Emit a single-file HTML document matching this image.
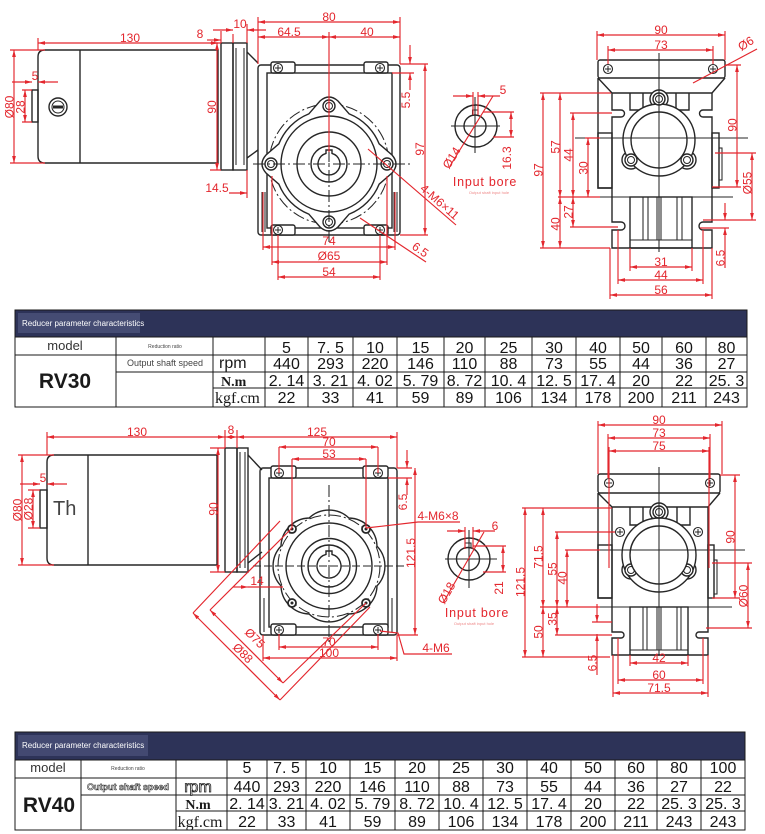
<!DOCTYPE html>
<html><head><meta charset="utf-8">
<style>
html,body{margin:0;padding:0;background:#fff}
svg{display:block}
.r{stroke:#e3262d;stroke-width:1.15;fill:none}
.a{marker-start:url(#m);marker-end:url(#m)}
.ae{marker-end:url(#m)}
.as{marker-start:url(#m)}
.d{stroke:#262626;stroke-width:1.4;fill:none}
.dt{stroke:#262626;stroke-width:1.05;fill:none}
.dw{stroke:#262626;stroke-width:1.4;fill:#fff}
.cl{stroke:#262626;stroke-width:1.05;stroke-dasharray:12 3 2 3;fill:none}
.t{fill:#e3262d;font-family:"Liberation Sans",sans-serif;font-size:12px;text-anchor:middle}
.v{fill:#151515;font-family:"Liberation Sans Narrow","Liberation Sans",sans-serif;font-size:16px;text-anchor:middle}
.g{stroke:#1a1a1a;stroke-width:1;fill:none}
</style></head><body>
<svg width="765" height="834" viewBox="0 0 765 834" xmlns="http://www.w3.org/2000/svg">
<defs>
<marker id="m" viewBox="0 0 10 10" refX="10" refY="5" markerWidth="7" markerHeight="7" orient="auto-start-reverse" markerUnits="userSpaceOnUse"><path d="M0,2.3L10,5L0,7.7z" fill="#e3262d"/></marker>
<g id="sc"><circle r="4.5" fill="#fff" stroke="#262626" stroke-width="1.1"/><path d="M-3,0H3M0,-3V3" stroke="#262626" stroke-width="1"/></g>
<g id="ho"><circle r="6" fill="#fff" stroke="#262626" stroke-width="1.4"/><circle r="3.5" fill="none" stroke="#262626" stroke-width="1"/></g>
<g id="sm"><circle r="4" fill="#fff" stroke="#262626" stroke-width="1.8"/><circle r="1.5" fill="#262626"/></g>
</defs>
<rect width="765" height="834" fill="#fff"/>

<!-- ================= TOP LEFT (RV30 side) ================= -->
<path class="d" d="M45,50H218V163H45Q38,163 38,156V57Q38,50 45,50Z"/>
<line class="d" x1="80" y1="50" x2="80" y2="163"/>
<rect class="d" x="32" y="90" width="6" height="32"/>
<circle cx="58" cy="107" r="9" class="d"/><circle cx="58" cy="107" r="6" class="dt"/><rect x="53" y="105.5" width="10" height="3" fill="#262626"/>
<rect class="d" x="221" y="43" width="12" height="127"/>
<rect class="d" x="233" y="43" width="14" height="127"/>
<path class="dt" d="M236,48V165M244,48V165"/>
<path class="d" d="M247,52L258,63M247,158L258,150"/>
<rect class="d" x="258" y="65" width="142" height="170" rx="3"/>
<rect class="d" x="267" y="73" width="125" height="155"/>
<rect class="dw" x="271" y="62" width="24" height="11" rx="2"/>
<rect class="dw" x="364" y="62" width="24" height="11" rx="2"/>
<rect class="dw" x="271" y="225" width="24" height="10" rx="2"/>
<rect class="dw" x="364" y="225" width="24" height="10" rx="2"/>
<path class="dt" d="M262,192V232M265,192V232M394,192V232M397,192V232"/>
<use href="#sc" x="278" y="68"/><use href="#sc" x="380" y="68"/>
<use href="#sc" x="278" y="230"/><use href="#sc" x="380" y="230"/>
<circle cx="329" cy="164" r="60" class="dt" stroke-dasharray="12 3 2 3"/>
<path class="dw" d="M308.8,113.9 L320,101 Q329,93 338,101 L349.2,113.9 A54,54 0 0 1 379.1,143.8 L392,155 Q400,164 392,173 L379.1,184.2 A54,54 0 0 1 349.2,214.1 L338,227 Q329,235 320,227 L308.8,214.1 A54,54 0 0 1 278.9,184.2 L266,173 Q258,164 266,155 L278.9,143.8 A54,54 0 0 1 308.8,113.9 Z"/>
<circle cx="329" cy="164" r="48" class="d"/>
<circle cx="329" cy="164" r="32" class="d"/>
<circle cx="329" cy="164" r="18" class="d"/>
<path class="d" d="M326,153.4 A11,11 0 1 0 332,153.4 V150 H326 Z"/>
<use href="#ho" x="329" y="106"/><use href="#ho" x="387" y="164"/>
<use href="#ho" x="329" y="222"/><use href="#ho" x="271" y="164"/>
<line class="cl" x1="253" y1="164" x2="410" y2="164"/>
<line class="cl" x1="329" y1="150" x2="329" y2="245"/>

<!-- red dims top-left -->
<path class="r" d="M38,38V50M221,31V43M233,34V43M247,24V43M258,17V64M400,17V64M329,32V152M10,50H45M10,163H45M22,90H32M22,122H32M210,43H221M210,170H221M247,170V198M400,64H428M392,73H414M400,235H428M263,192V250M395,192V250M272,176V265M387,176V265M278,235V280M380,235V280"/>
<line class="r a" x1="38" y1="43" x2="218" y2="43"/>
<text class="t" x="130" y="42">130</text>
<line class="r ae" x1="207" y1="40" x2="221" y2="40"/>
<text class="t" x="200" y="38">8</text>
<line class="r ae" x1="213" y1="30" x2="233" y2="30"/>
<line class="r as" x1="247" y1="30" x2="266" y2="30"/>
<text class="t" x="240" y="28">10</text>
<line class="r a" x1="258" y1="22" x2="400" y2="22"/>
<text class="t" x="329" y="21">80</text>
<line class="r a" x1="258" y1="37" x2="329" y2="37"/>
<line class="r a" x1="329" y1="37" x2="400" y2="37"/>
<text class="t" x="289" y="36">64.5</text>
<text class="t" x="367" y="36">40</text>
<line class="r a" x1="14" y1="50" x2="14" y2="163"/>
<text class="t" transform="translate(13.5,107) rotate(-90)">Ø80</text>
<line class="r a" x1="25" y1="90" x2="25" y2="122"/>
<text class="t" transform="translate(24.5,107) rotate(-90)">28</text>
<line class="r ae" x1="12" y1="82" x2="32" y2="82"/>
<line class="r as" x1="38" y1="82" x2="58" y2="82"/>
<text class="t" x="35" y="80">5</text>
<line class="r a" x1="217" y1="43" x2="217" y2="170"/>
<text class="t" transform="translate(216,107) rotate(-90)">90</text>
<line class="r ae" x1="229" y1="193" x2="247" y2="193"/>
<text class="t" x="217" y="192">14.5</text>
<line class="r ae" x1="410" y1="45" x2="410" y2="64"/>
<line class="r as" x1="410" y1="73" x2="410" y2="90"/>
<text class="t" transform="translate(410,100) rotate(-90)">5.5</text>
<line class="r a" x1="425" y1="64" x2="425" y2="235"/>
<text class="t" transform="translate(424,149) rotate(-90)">97</text>
<line class="r" x1="368" y1="149" x2="456" y2="225"/>
<text class="t" transform="translate(437,205) rotate(41)">4-M6×11</text>
<line class="r a" x1="263" y1="247" x2="395" y2="247"/>
<text class="t" x="329" y="245">74</text>
<line class="r a" x1="272" y1="262" x2="387" y2="262"/>
<text class="t" x="329" y="260">Ø65</text>
<line class="r a" x1="278" y1="277" x2="380" y2="277"/>
<text class="t" x="329" y="276">54</text>
<line class="r" x1="360" y1="218" x2="426" y2="262"/>
<text class="t" transform="translate(418,253) rotate(35)">6.5</text>

<!-- ================= INPUT BORE TOP ================= -->
<circle cx="476" cy="126" r="21" class="d"/>
<circle cx="475" cy="126" r="11" class="d"/>
<path class="dt" d="M472.5,115.3V110H478V115.3"/>
<path class="dt" d="M451,126H500M475,97V153"/>
<path class="r" d="M473,92V115M478,92V115M483,112H514M493,137H514"/>
<line class="r ae" x1="453" y1="96" x2="473" y2="96"/>
<line class="r as" x1="478" y1="96" x2="500" y2="96"/>
<text class="t" x="503" y="94">5</text>
<line class="r a" x1="511" y1="112" x2="511" y2="137"/>
<text class="t" transform="translate(511,158) rotate(-90)">16.3</text>
<line class="r" x1="450" y1="166" x2="493" y2="96"/>
<text class="t" transform="translate(455,160) rotate(-58)">Ø14</text>
<text x="485" y="186" fill="#e3262d" font-family="Liberation Sans,sans-serif" font-size="12.5" text-anchor="middle" letter-spacing="0.8">Input bore</text>
<text x="489" y="194" fill="#e88" font-family="Liberation Sans,sans-serif" font-size="4" text-anchor="middle">Output shaft input hole</text>

<!-- ================= TOP RIGHT VIEW ================= -->
<rect class="d" x="598" y="60" width="127" height="18" rx="2"/>
<path class="d" d="M598,78L612,93M725,78L712,93M612,93H712M598,78V188H612"/>
<path class="d" d="M612,93V110H621A3.5,3.5 0 0 1 621,117H612V222H621A4,4 0 0 1 621,230H612V248H712V230H703A4,4 0 0 1 703,222H712V117H703A3.5,3.5 0 0 1 703,110H712V93"/>
<path class="d" d="M630,93V110H643V93M676,93V110H689V93"/>
<rect class="d" x="598" y="133" width="14" height="55"/>
<rect class="d" x="712" y="133" width="7" height="55"/>
<rect class="dt" x="719" y="148" width="3" height="32"/>
<use href="#sc" x="608" y="69"/><use href="#sc" x="713" y="69"/>
<circle cx="659" cy="99" r="9" class="dw"/>
<circle cx="631" cy="160" r="9" class="dw"/>
<circle cx="687" cy="160" r="9" class="dw"/>
<circle cx="659" cy="140" r="36" class="dw"/>
<use href="#ho" x="659" y="99"/><use href="#ho" x="631" y="160"/><use href="#ho" x="687" y="160"/>
<circle cx="659" cy="140" r="28" class="dw"/>
<rect class="d" x="630" y="197" width="62" height="51"/>
<path class="dt" d="M643,197V240M648,197V240M657,197V240M661,197V240M677,197V240M682,197V240M630,240H692"/>
<path class="dt" d="M575,138H748M560,197H733M659,53V252"/>
<!-- red top right -->
<path class="r" d="M597,31V60M725,31V60M608,46V64M713,46V64M725,65H741M712,187H741M715,153H756M703,220H756M700,228H729M540,93H611M540,248H610M570,113H612M585,138H600M558,197H600M570,227H618M630,248V271M692,248V271M618,230V284M703,230V284M610,248V299M712,248V299"/>
<line class="r a" x1="597" y1="35" x2="725" y2="35"/>
<text class="t" x="661" y="34">90</text>
<line class="r a" x1="608" y1="50" x2="713" y2="50"/>
<text class="t" x="661" y="49">73</text>
<line class="r" x1="693" y1="83" x2="757" y2="49"/>
<text class="t" transform="translate(748,47) rotate(-32)">Ø6</text>
<line class="r a" x1="737" y1="65" x2="737" y2="187"/>
<text class="t" transform="translate(736.5,125) rotate(-90)">90</text>
<line class="r a" x1="752" y1="153" x2="752" y2="220"/>
<text class="t" transform="translate(751.5,183) rotate(-90)">Ø55</text>
<line class="r ae" x1="725" y1="203" x2="725" y2="220"/>
<line class="r as" x1="725" y1="228" x2="725" y2="268"/>
<text class="t" transform="translate(724.5,258) rotate(-90)">6.5</text>
<line class="r a" x1="543" y1="93" x2="543" y2="248"/>
<text class="t" transform="translate(542.5,170) rotate(-90)">97</text>
<line class="r a" x1="560" y1="93" x2="560" y2="197"/>
<text class="t" transform="translate(559.5,147) rotate(-90)">57</text>
<line class="r a" x1="573" y1="113" x2="573" y2="197"/>
<text class="t" transform="translate(572.5,155) rotate(-90)">44</text>
<line class="r a" x1="588" y1="138" x2="588" y2="197"/>
<text class="t" transform="translate(587.5,168) rotate(-90)">30</text>
<line class="r a" x1="573" y1="197" x2="573" y2="227"/>
<text class="t" transform="translate(572.5,212) rotate(-90)">27</text>
<line class="r a" x1="560" y1="197" x2="560" y2="248"/>
<text class="t" transform="translate(559.5,224) rotate(-90)">40</text>
<line class="r a" x1="630" y1="267" x2="692" y2="267"/>
<text class="t" x="661" y="266">31</text>
<line class="r a" x1="618" y1="280" x2="703" y2="280"/>
<text class="t" x="661" y="279">44</text>
<line class="r a" x1="610" y1="295" x2="712" y2="295"/>
<text class="t" x="661" y="294">56</text>

<!-- ================= TABLE 1 ================= -->
<rect x="15" y="310" width="732" height="27" fill="#2d3358"/>
<rect x="18" y="313" width="122" height="20" fill="#59608a" opacity="0.55"/>
<text x="22" y="326" fill="#fff" font-family="Liberation Sans,sans-serif" font-size="8">Reducer parameter characteristics</text>
<rect x="15" y="310" width="732" height="97" class="g" stroke-width="1.5"/>
<path class="g" d="M15,337H747M15,355H747M116,372H747M213,388H747M116,337V407M213,337V407M265,337V407M308,337V407M353,337V407M397,337V407M444,337V407M485,337V407M532,337V407M576,337V407M620,337V407M662,337V407M706,337V407"/>
<text x="65" y="350" fill="#333" font-family="Liberation Sans,sans-serif" font-size="13" text-anchor="middle">model</text>
<text x="165" y="348" fill="#444" font-family="Liberation Sans,sans-serif" font-size="5" text-anchor="middle">Reduction ratio</text>
<text x="165" y="366" fill="#444" font-family="Liberation Sans,sans-serif" font-size="9" text-anchor="middle">Output shaft speed</text>
<text x="65" y="388" fill="#1a1a1a" font-family="Liberation Sans,sans-serif" font-size="21" font-weight="bold" text-anchor="middle">RV30</text>
<text x="219" y="368" fill="#1a1a1a" font-family="Liberation Sans,sans-serif" font-size="16">rpm</text>
<text x="221" y="386" fill="#1a1a1a" font-family="Liberation Serif,serif" font-size="14" font-weight="bold">N.m</text>
<text x="215" y="403" fill="#1a1a1a" font-family="Liberation Serif,serif" font-size="16">kgf.cm</text>
<g class="v">
<text x="286.5" y="353">5</text><text x="330.5" y="353">7. 5</text><text x="375" y="353">10</text><text x="420.5" y="353">15</text><text x="464.5" y="353">20</text><text x="508.5" y="353">25</text><text x="554" y="353">30</text><text x="598" y="353">40</text><text x="641" y="353">50</text><text x="684" y="353">60</text><text x="726.5" y="353">80</text>
<text x="286.5" y="369">440</text><text x="330.5" y="369">293</text><text x="375" y="369">220</text><text x="420.5" y="369">146</text><text x="464.5" y="369">110</text><text x="508.5" y="369">88</text><text x="554" y="369">73</text><text x="598" y="369">55</text><text x="641" y="369">44</text><text x="684" y="369">36</text><text x="726.5" y="369">27</text>
<text x="286.5" y="386">2. 14</text><text x="330.5" y="386">3. 21</text><text x="375" y="386">4. 02</text><text x="420.5" y="386">5. 79</text><text x="464.5" y="386">8. 72</text><text x="508.5" y="386">10. 4</text><text x="554" y="386">12. 5</text><text x="598" y="386">17. 4</text><text x="641" y="386">20</text><text x="684" y="386">22</text><text x="726.5" y="386">25. 3</text>
<text x="286.5" y="403">22</text><text x="330.5" y="403">33</text><text x="375" y="403">41</text><text x="420.5" y="403">59</text><text x="464.5" y="403">89</text><text x="508.5" y="403">106</text><text x="554" y="403">134</text><text x="598" y="403">178</text><text x="641" y="403">200</text><text x="684" y="403">211</text><text x="726.5" y="403">243</text>
</g>

<!-- ================= BOTTOM LEFT (RV40 side) ================= -->
<path class="d" d="M54,455H217V565H54Q47,565 47,558V462Q47,455 54,455Z"/>
<line class="d" x1="88" y1="455" x2="88" y2="565"/>
<rect class="d" x="40" y="490" width="7" height="38"/>
<text x="53" y="515" fill="#444" font-family="Liberation Sans,sans-serif" font-size="20">Th</text>
<rect class="d" x="225" y="448" width="12" height="124"/>
<rect class="d" x="237" y="448" width="11" height="124"/>
<path class="dt" d="M240,452V568M245,452V568"/>
<path class="d" d="M248,455L262,470M248,563L262,552"/>
<rect class="d" x="260" y="468" width="137" height="167" rx="3"/>
<rect class="d" x="269" y="478" width="119" height="149"/>
<rect class="dw" x="271" y="466" width="25" height="12" rx="2"/>
<rect class="dw" x="363" y="466" width="25" height="12" rx="2"/>
<rect class="dw" x="271" y="624" width="25" height="11" rx="2"/>
<rect class="dw" x="363" y="624" width="25" height="11" rx="2"/>
<path class="dt" d="M264,598V632M392,598V632"/>
<use href="#sc" x="279" y="473"/><use href="#sc" x="378" y="473"/>
<use href="#sc" x="279" y="630"/><use href="#sc" x="378" y="630"/>
<path class="d" stroke-linejoin="round" d="M377,546.1 A28.9,28.9 0 0 1 377,585.9 A28.9,28.9 0 0 1 348.9,614 A28.9,28.9 0 0 1 309.1,614 A28.9,28.9 0 0 1 281,585.9 A28.9,28.9 0 0 1 281,546.1 A28.9,28.9 0 0 1 309.1,518 A28.9,28.9 0 0 1 348.9,518 A28.9,28.9 0 0 1 377,546.1 Z"/>
<circle cx="329" cy="566" r="51" class="dt" stroke-dasharray="12 3 2 3"/>
<circle cx="329" cy="566" r="43" class="d"/>
<circle cx="329" cy="566" r="27.5" class="d"/>
<circle cx="329" cy="566" r="21" class="d"/>
<path class="d" d="M326,554.4 A12,12 0 1 0 332,554.4 V551 H326 Z"/>
<use href="#sm" x="292" y="529"/><use href="#sm" x="366" y="529"/>
<use href="#sm" x="292" y="603"/><use href="#sm" x="366" y="603"/>
<line class="dt" x1="253" y1="566" x2="405" y2="566" stroke-dasharray="8 3"/>
<line class="cl" x1="329" y1="485" x2="329" y2="645"/>
<!-- red bottom-left -->
<path class="r" d="M47,432V455M225,430V448M237,430V448M397,432V468M279,447V473M378,447V473M292,459V528M366,459V528M18,455H54M18,565H54M28,490H40M28,528H40M210,448H225M210,572H225M397,468H412M388,478H412M397,635H418M279,634V650M378,634V650M263,635V661M397,635V661"/>
<line class="r a" x1="47" y1="437" x2="225" y2="437"/>
<text class="t" x="137" y="436">130</text>
<line class="r a" x1="225" y1="437" x2="237" y2="437"/>
<text class="t" x="231" y="434">8</text>
<line class="r a" x1="237" y1="437" x2="397" y2="437"/>
<text class="t" x="317" y="436">125</text>
<line class="r a" x1="279" y1="447" x2="378" y2="447"/>
<text class="t" x="329" y="446">70</text>
<line class="r a" x1="292" y1="459" x2="366" y2="459"/>
<text class="t" x="329" y="458">53</text>
<line class="r a" x1="22" y1="455" x2="22" y2="565"/>
<text class="t" transform="translate(21.5,510) rotate(-90)">Ø80</text>
<line class="r a" x1="33" y1="490" x2="33" y2="528"/>
<text class="t" transform="translate(32.5,509) rotate(-90)">Ø28</text>
<line class="r ae" x1="20" y1="484" x2="40" y2="484"/>
<line class="r as" x1="47" y1="484" x2="67" y2="484"/>
<text class="t" x="43" y="482">5</text>
<line class="r a" x1="218" y1="448" x2="218" y2="572"/>
<text class="t" transform="translate(217.5,509) rotate(-90)">90</text>
<line class="r ae" x1="233" y1="587" x2="248" y2="587"/>
<line class="r" x1="248" y1="587" x2="283" y2="587"/>
<text class="t" x="257" y="585">14</text>
<line class="r ae" x1="407" y1="450" x2="407" y2="468"/>
<line class="r as" x1="407" y1="478" x2="407" y2="495"/>
<text class="t" transform="translate(407,502) rotate(-90)">6.5</text>
<line class="r a" x1="415" y1="468" x2="415" y2="635"/>
<text class="t" transform="translate(415,553) rotate(-90)">121.5</text>
<path class="r" d="M366,528L418,522H460"/>
<text class="t" x="438" y="520" font-size="11">4-M6×8</text>
<line class="r a" x1="279" y1="647" x2="378" y2="647"/>
<text class="t" x="329" y="646">70</text>
<line class="r a" x1="263" y1="658" x2="397" y2="658"/>
<text class="t" x="329" y="657">100</text>
<path class="r" d="M380,631L398,633L404,654H452"/>
<text class="t" x="436" y="652" font-size="11">4-M6</text>
<path class="r" d="M292,528L210,610M366,603L283,683M280,521L193,613M370,607L280,700"/>
<line class="r a" x1="210" y1="610" x2="283" y2="683"/>
<line class="r a" x1="193" y1="613" x2="280" y2="700"/>
<text class="t" transform="translate(252,641) rotate(45)">Ø75</text>
<text class="t" transform="translate(240,656) rotate(45)">Ø88</text>

<!-- ================= INPUT BORE BOTTOM ================= -->
<circle cx="469" cy="559" r="21" class="d"/>
<circle cx="468" cy="559" r="11.5" class="d"/>
<path class="dt" d="M465,548V543H471V548"/>
<path class="dt" d="M445,559H497M469,530V588"/>
<path class="r" d="M465,527V549M473,527V549M473,546H506M483,572H506"/>
<line class="r ae" x1="447" y1="531" x2="465" y2="531"/>
<line class="r as" x1="473" y1="531" x2="495" y2="531"/>
<text class="t" x="495" y="530">6</text>
<line class="r a" x1="503" y1="546" x2="503" y2="572"/>
<text class="t" transform="translate(503,588) rotate(-90)">21</text>
<line class="r" x1="443" y1="603" x2="484" y2="532"/>
<text class="t" transform="translate(450,595) rotate(-60)">Ø18</text>
<text x="477" y="617" fill="#e3262d" font-family="Liberation Sans,sans-serif" font-size="12.5" text-anchor="middle" letter-spacing="0.8">Input bore</text>
<text x="474" y="625" fill="#e88" font-family="Liberation Sans,sans-serif" font-size="4" text-anchor="middle">Output shaft input hole</text>

<!-- ================= BOTTOM RIGHT VIEW ================= -->
<rect class="d" x="598" y="474" width="122" height="19" rx="2"/>
<path class="d" d="M598,493L612,507M720,493L708,507M612,507H708M598,493V598H612"/>
<path class="d" d="M612,507V632H621A3,3 0 0 1 621,638H612V655H708V638H699A3,3 0 0 1 699,632H708V507"/>
<path class="d" d="M630,507V525H643V507M677,507V525H690V507"/>
<rect class="d" x="598" y="545" width="14" height="53"/>
<rect class="d" x="708" y="545" width="6" height="53"/>
<rect class="dt" x="714" y="560" width="3" height="34"/>
<use href="#sc" x="609" y="483"/><use href="#sc" x="710" y="483"/>
<use href="#sc" x="620" y="532"/><use href="#sc" x="698" y="532"/>
<circle cx="659" cy="512" r="9" class="dw"/>
<circle cx="631" cy="570" r="9" class="dw"/>
<circle cx="687" cy="570" r="9" class="dw"/>
<circle cx="659" cy="555" r="37" class="dw"/>
<use href="#ho" x="659" y="512"/><use href="#ho" x="631" y="570"/><use href="#ho" x="687" y="570"/>
<circle cx="659" cy="555" r="29" class="dw"/>
<rect class="d" x="630" y="607" width="58" height="48"/>
<path class="dt" d="M643,607V650M647,607V650M657,607V650M661,607V650M677,607V650M681,607V650M630,650H688"/>
<path class="dt" d="M567,550H745M542,607H732M659,467V655"/>
<!-- red bottom right -->
<path class="r" d="M598,421V474M722,421V474M608,434V478M710,434V478M609,447V568M709,447V568M720,475H740M712,598H740M712,563H752M706,628H752M522,508H612M522,657H610M555,532H615M565,550H600M540,607H600M555,635H612M592,622H612M618,638V684M703,638V684M613,655V697M708,655V697M630,655V666M688,655V666"/>
<line class="r a" x1="598" y1="425" x2="722" y2="425"/>
<text class="t" x="659" y="424">90</text>
<line class="r a" x1="608" y1="438" x2="710" y2="438"/>
<text class="t" x="659" y="437">73</text>
<line class="r a" x1="609" y1="451" x2="709" y2="451"/>
<text class="t" x="659" y="450">75</text>
<line class="r a" x1="735" y1="475" x2="735" y2="598"/>
<text class="t" transform="translate(734.5,537) rotate(-90)">90</text>
<line class="r a" x1="748" y1="563" x2="748" y2="628"/>
<text class="t" transform="translate(747.5,596) rotate(-90)">Ø60</text>
<line class="r a" x1="525" y1="508" x2="525" y2="657"/>
<text class="t" transform="translate(524.5,582) rotate(-90)">121.5</text>
<line class="r a" x1="543" y1="508" x2="543" y2="607"/>
<text class="t" transform="translate(542.5,557) rotate(-90)">71.5</text>
<line class="r a" x1="557" y1="532" x2="557" y2="607"/>
<text class="t" transform="translate(556.5,569) rotate(-90)">55</text>
<line class="r a" x1="567" y1="550" x2="567" y2="607"/>
<text class="t" transform="translate(566.5,578) rotate(-90)">40</text>
<line class="r a" x1="557" y1="607" x2="557" y2="635"/>
<text class="t" transform="translate(556.5,619) rotate(-90)">35</text>
<line class="r a" x1="543" y1="607" x2="543" y2="657"/>
<text class="t" transform="translate(542.5,632) rotate(-90)">50</text>
<line class="r ae" x1="597" y1="604" x2="597" y2="622"/>
<line class="r as" x1="597" y1="634" x2="597" y2="675"/>
<text class="t" transform="translate(596.5,663) rotate(-90)">6.5</text>
<line class="r a" x1="630" y1="663" x2="688" y2="663"/>
<text class="t" x="659" y="662">42</text>
<line class="r a" x1="618" y1="680" x2="703" y2="680"/>
<text class="t" x="659" y="679">60</text>
<line class="r a" x1="613" y1="693" x2="708" y2="693"/>
<text class="t" x="659" y="692">71.5</text>

<!-- ================= TABLE 2 ================= -->
<rect x="15" y="732" width="730" height="28" fill="#2d3358"/>
<rect x="18" y="735" width="130" height="21" fill="#59608a" opacity="0.5"/>
<text x="22" y="748" fill="#fff" font-family="Liberation Sans,sans-serif" font-size="8">Reducer parameter characteristics</text>
<rect x="15" y="732" width="730" height="98" class="g" stroke-width="1.5"/>
<path class="g" d="M15,760H745M15,778H745M81,795H745M176,811H745M81,760V830M176,760V830M227,760V830M267,760V830M306,760V830M350,760V830M395,760V830M439,760V830M483,760V830M527,760V830M571,760V830M615,760V830M657,760V830M701,760V830"/>
<text x="48" y="772" fill="#333" font-family="Liberation Sans,sans-serif" font-size="13" text-anchor="middle">model</text>
<text x="128" y="770" fill="#444" font-family="Liberation Sans,sans-serif" font-size="5" text-anchor="middle">Reduction ratio</text>
<text x="128" y="790" fill="#fff" stroke="#333" stroke-width="0.6" font-family="Liberation Sans,sans-serif" font-size="9" font-weight="bold" text-anchor="middle">Output shaft speed</text>
<text x="49" y="812" fill="#1a1a1a" font-family="Liberation Sans,sans-serif" font-size="21" font-weight="bold" text-anchor="middle">RV40</text>
<text x="198" y="792" fill="#fff" stroke="#222" stroke-width="0.8" font-family="Liberation Sans,sans-serif" font-size="16" text-anchor="middle">rpm</text>
<text x="198" y="809" fill="#1a1a1a" font-family="Liberation Serif,serif" font-size="14" font-weight="bold" text-anchor="middle">N.m</text>
<text x="200" y="827" fill="#1a1a1a" font-family="Liberation Serif,serif" font-size="16" text-anchor="middle">kgf.cm</text>
<g class="v">
<text x="247" y="773">5</text><text x="286.5" y="773">7. 5</text><text x="328" y="773">10</text><text x="372.5" y="773">15</text><text x="417" y="773">20</text><text x="461" y="773">25</text><text x="505" y="773">30</text><text x="549" y="773">40</text><text x="593" y="773">50</text><text x="636" y="773">60</text><text x="679" y="773">80</text><text x="723" y="773">100</text>
<text x="247" y="792">440</text><text x="286.5" y="792">293</text><text x="328" y="792">220</text><text x="372.5" y="792">146</text><text x="417" y="792">110</text><text x="461" y="792">88</text><text x="505" y="792">73</text><text x="549" y="792">55</text><text x="593" y="792">44</text><text x="636" y="792">36</text><text x="679" y="792">27</text><text x="723" y="792">22</text>
<text x="247" y="809">2. 14</text><text x="286.5" y="809">3. 21</text><text x="328" y="809">4. 02</text><text x="372.5" y="809">5. 79</text><text x="417" y="809">8. 72</text><text x="461" y="809">10. 4</text><text x="505" y="809">12. 5</text><text x="549" y="809">17. 4</text><text x="593" y="809">20</text><text x="636" y="809">22</text><text x="679" y="809">25. 3</text><text x="723" y="809">25. 3</text>
<text x="247" y="827">22</text><text x="286.5" y="827">33</text><text x="328" y="827">41</text><text x="372.5" y="827">59</text><text x="417" y="827">89</text><text x="461" y="827">106</text><text x="505" y="827">134</text><text x="549" y="827">178</text><text x="593" y="827">200</text><text x="636" y="827">211</text><text x="679" y="827">243</text><text x="723" y="827">243</text>
</g>
</svg>
</body></html>
